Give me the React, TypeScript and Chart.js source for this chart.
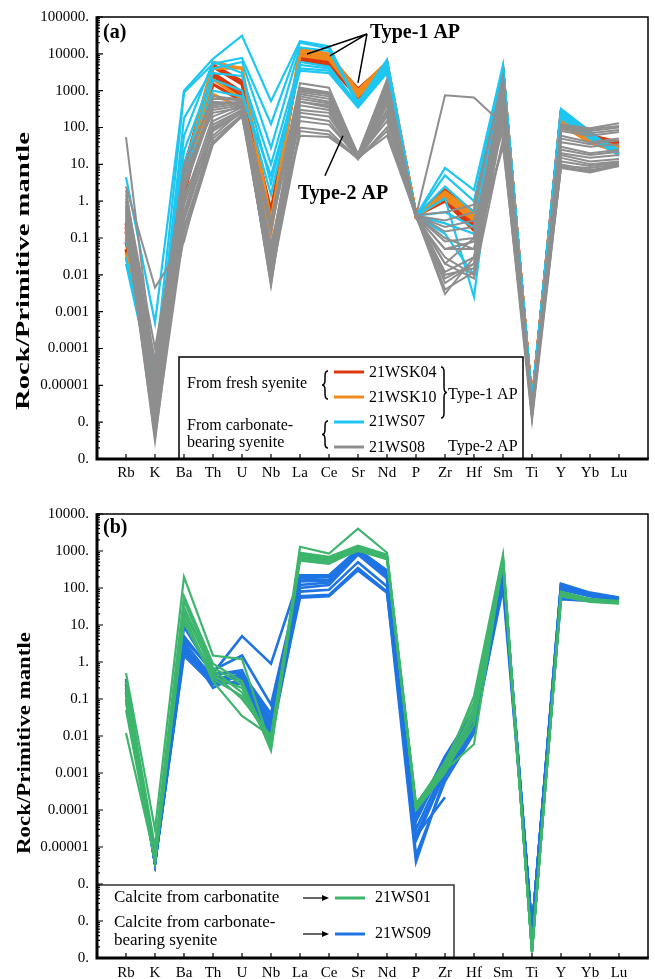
import React, { useEffect, useRef } from 'react';
import { Chart, registerables } from 'chart.js';

Chart.register(...registerables);

const FONT = '"Liberation Serif", "Times New Roman", serif';

const elements = ['Rb', 'K', 'Ba', 'Th', 'U', 'Nb', 'La', 'Ce', 'Sr', 'Nd', 'P', 'Zr', 'Hf', 'Sm', 'Ti', 'Y', 'Yb', 'Lu'];

const tickValuesA = [1e5, 1e4, 1e3, 100, 10, 1, 0.1, 0.01, 1e-3, 1e-4, 1e-5, 1e-6, 1e-7];
const tickLabelsA = ['100000.', '10000.', '1000.', '100.', '10.', '1.', '0.1', '0.01', '0.001', '0.0001', '0.00001', '0.', '0.'];
const tickValuesB = [1e4, 1e3, 100, 10, 1, 0.1, 0.01, 1e-3, 1e-4, 1e-5, 1e-6, 1e-7, 1e-8];
const tickLabelsB = ['10000.', '1000.', '100.', '10.', '1.', '0.1', '0.01', '0.001', '0.0001', '0.00001', '0.', '0.', '0.'];

// ---- Panel (a) ----  order: Rb K Ba Th U Nb La Ce Sr Nd P Zr Hf Sm Ti Y Yb Lu
const ws08 = [
  [55, 2e-5, 10, 600, 550, 0.3, 1600, 1200, 18, 2000, 0.4, 0.3, 0.5, 2500, 2.5e-6, 120, 95, 130],
  [2.5, 4.5e-3, 0.08, 100, 300, 0.02, 500, 400, 16, 600, 0.4, 0.05, 0.05, 800, 2e-6, 60, 40, 50],
  [1.5, 1e-4, 3, 500, 450, 0.05, 800, 600, 15, 900, 0.4, 750, 650, 120, 1.5e-6, 40, 30, 35],
  [0.8, 1e-5, 2, 400, 500, 0.01, 1000, 800, 18, 1200, 0.45, 0.02, 0.1, 1500, 2e-6, 100, 80, 100],
  [0.5, 1e-6, 1, 200, 400, 0.005, 700, 500, 14, 800, 0.4, 0.003, 0.03, 700, 1.4e-6, 30, 20, 25],
  [0.3, 3e-7, 0.5, 150, 350, 0.006, 400, 300, 15, 500, 0.38, 0.008, 0.02, 400, 1.5e-6, 20, 15, 18],
  [1.0, 6e-7, 0.3, 80, 250, 0.008, 300, 250, 16, 300, 0.4, 0.01, 0.015, 300, 1.6e-6, 15, 10, 12],
  [0.2, 3e-6, 0.2, 50, 220, 0.02, 200, 150, 14, 200, 0.35, 0.03, 0.01, 150, 2e-6, 10, 7, 9],
  [0.15, 1e-5, 0.1, 35, 200, 0.05, 60, 55, 15, 60, 0.4, 0.1, 0.05, 30, 2.5e-6, 8, 6, 9],
  [0.4, 5e-5, 8, 700, 580, 0.15, 1200, 900, 19, 1800, 0.42, 0.5, 0.8, 2000, 2.5e-6, 110, 90, 110],
  [0.6, 2e-6, 4, 300, 400, 0.03, 900, 700, 17, 1000, 0.4, 0.05, 0.08, 1000, 1.8e-6, 80, 60, 75],
  [0.25, 8e-7, 0.8, 120, 300, 0.006, 500, 350, 15, 400, 0.4, 0.004, 0.012, 600, 1.4e-6, 25, 18, 22],
  [2.0, 3e-5, 6, 250, 350, 0.07, 150, 120, 16, 150, 0.4, 0.2, 0.3, 80, 2e-6, 12, 9, 11],
  [0.12, 4e-6, 1.5, 60, 280, 0.012, 100, 80, 14, 100, 0.37, 0.02, 0.008, 50, 1.5e-6, 9, 8, 10],
  [1.2, 2e-5, 3, 450, 500, 0.2, 600, 450, 18, 700, 0.43, 0.15, 0.2, 500, 2.2e-6, 50, 35, 45],
  [0.35, 1.5e-6, 0.4, 90, 260, 0.015, 250, 200, 15, 250, 0.4, 0.006, 0.02, 250, 1.5e-6, 18, 12, 14],
  [0.7, 7e-6, 2, 350, 450, 0.04, 1100, 850, 17, 1400, 0.4, 0.08, 0.1, 1200, 1.7e-6, 90, 70, 85],
  [0.18, 4e-7, 0.15, 40, 210, 0.008, 80, 65, 14, 80, 0.4, 0.012, 0.03, 40, 1.1e-6, 8.5, 6.5, 9.5],
];

const ws07 = [
  [4.5, 5e-4, 1000, 7300, 31000, 520, 22000, 16000, 450, 7000, 0.4, 8, 2, 5000, 3.5e-6, 320, 80, 17],
  [0.45, 3e-5, 900, 5400, 7700, 125, 20000, 14000, 400, 6000, 0.4, 5, 1, 4500, 3.4e-6, 300, 70, 20],
  [0.3, 1.2e-5, 180, 4000, 6000, 28, 15000, 12000, 500, 5000, 0.4, 2.5, 0.5, 4000, 3.3e-6, 280, 65, 25],
  [0.02, 6e-6, 23, 3000, 2500, 10, 6000, 4500, 400, 4000, 0.4, 1.2, 0.0025, 3500, 3.2e-6, 250, 60, 18],
  [0.1, 1e-5, 60, 6000, 3000, 3, 5000, 4000, 380, 3500, 0.4, 0.5, 0.2, 3000, 3.2e-6, 200, 50, 20],
  [0.2, 1.4e-5, 10, 2000, 1000, 1.5, 4000, 3500, 420, 4500, 0.4, 0.25, 0.13, 3800, 3.3e-6, 220, 55, 22],
  [0.03, 8e-6, 5, 1000, 700, 5, 3500, 3000, 350, 3000, 0.4, 0.13, 0.01, 2500, 3.1e-6, 180, 50, 18],
];

const wsk10 = [
  [0.15, 9e-6, 5, 6000, 4000, 0.2, 14000, 10000, 1000, 6000, 0.4, 1.5, 0.4, 3500, 3.1e-6, 200, 45, 30],
  [0.04, 8e-6, 3, 800, 340, 0.14, 12000, 9000, 800, 5000, 0.38, 1.3, 0.35, 3000, 3e-6, 150, 40, 25],
  [0.1, 1e-5, 7, 4000, 4200, 0.3, 11000, 8000, 900, 5500, 0.4, 1.8, 0.5, 3300, 3.2e-6, 170, 42, 27],
  [0.03, 8e-6, 4, 2000, 600, 0.25, 9000, 7000, 700, 4200, 0.4, 1.2, 0.3, 2800, 3e-6, 120, 38, 22],
];

const wsk04 = [
  [0.25, 1e-5, 8, 4500, 1500, 0.45, 9500, 7500, 900, 5000, 0.4, 1.5, 0.3, 3000, 2.9e-6, 250, 60, 40],
  [0.15, 8e-6, 1.5, 1500, 520, 0.35, 8000, 6000, 750, 4000, 0.4, 1.2, 0.2, 2800, 2.9e-6, 200, 50, 30],
  [0.08, 1.1e-5, 4, 3000, 900, 0.55, 10000, 8500, 1100, 5500, 0.42, 2.0, 0.5, 3200, 3e-6, 220, 55, 35],
  [0.2, 9e-6, 6, 5000, 1800, 0.4, 7000, 5000, 650, 3500, 0.4, 1.0, 0.16, 2900, 2.9e-6, 180, 45, 28],
  [0.05, 8.5e-6, 2.5, 2500, 700, 0.3, 8500, 7000, 850, 4500, 0.4, 1.8, 0.25, 3100, 3e-6, 230, 50, 33],
];

// ---- Panel (b) ----
const ws01 = [
  [0.5, 3e-5, 200, 1.5, 1.2, 0.005, 1300, 850, 4000, 900, 1.5e-4, 1.5e-3, 0.12, 800, 1.4e-8, 70, 45, 40],
  [0.3, 1e-5, 60, 0.9, 0.3, 0.004, 900, 700, 1400, 800, 1.2e-4, 1.2e-3, 0.006, 600, 1.5e-8, 65, 45, 42],
  [0.15, 4e-6, 45, 0.7, 0.25, 0.006, 800, 650, 1300, 750, 1.3e-4, 1.5e-3, 0.05, 550, 1.5e-8, 75, 48, 40],
  [0.1, 4e-6, 30, 0.6, 0.15, 0.008, 700, 600, 1200, 700, 1e-4, 1e-3, 0.03, 500, 1.5e-8, 60, 42, 38],
  [0.05, 4e-6, 25, 0.5, 0.1, 0.01, 650, 550, 1100, 650, 1.4e-4, 2e-3, 0.08, 600, 1.5e-8, 80, 50, 45],
  [0.012, 5e-6, 20, 0.3, 0.035, 0.01, 600, 500, 1000, 600, 1.2e-4, 1.2e-3, 0.02, 450, 1.5e-8, 65, 44, 40],
  [0.2, 4e-6, 15, 0.4, 0.2, 0.005, 550, 450, 1100, 600, 1.1e-4, 1.4e-3, 0.04, 500, 1.5e-8, 70, 46, 42],
  [0.08, 4e-6, 12, 0.35, 0.12, 0.007, 750, 600, 1250, 700, 1e-4, 1.1e-3, 0.06, 650, 1.5e-8, 72, 47, 43],
];

const ws09 = [
  [0.35, 3.7e-6, 9, 0.5, 5, 0.9, 220, 220, 1100, 300, 8e-5, 2.8e-3, 0.05, 350, 5.7e-8, 130, 75, 55],
  [0.3, 3.7e-6, 4, 0.6, 1.5, 0.07, 180, 200, 1000, 280, 6e-5, 2.5e-3, 0.04, 300, 5.7e-8, 120, 70, 52],
  [0.25, 3.7e-6, 3, 0.2, 0.5, 0.03, 160, 170, 950, 250, 5e-5, 2e-3, 0.035, 280, 5.7e-8, 110, 68, 50],
  [0.2, 3.7e-6, 2.5, 0.3, 0.4, 0.02, 150, 160, 900, 230, 3e-5, 1.5e-3, 0.03, 260, 5.7e-8, 100, 65, 50],
  [0.15, 3.7e-6, 2, 0.4, 0.35, 0.015, 120, 140, 850, 200, 2e-5, 1.2e-3, 0.025, 240, 5.7e-8, 95, 62, 48],
  [0.1, 3.7e-6, 1.5, 0.25, 0.3, 0.01, 100, 120, 800, 180, 1.5e-5, 1e-3, 0.02, 220, 5.7e-8, 90, 60, 47],
  [0.3, 3.7e-6, 3.5, 0.35, 0.45, 0.025, 60, 65, 350, 80, 4e-6, 8e-4, 0.015, 100, 5.7e-8, 50, 45, 40],
  [0.25, 3.7e-6, 2.2, 0.45, 0.6, 0.012, 55, 60, 300, 75, 2e-5, 2.2e-4, null, null, null, null, null, null],
  [0.2, 3.7e-6, 1.8, 0.3, 0.25, 0.008, 80, 90, 500, 110, 6e-6, 6e-4, 0.012, 150, 5.7e-8, 60, 50, 42],
  [0.15, 3.7e-6, 5, 0.5, 0.5, 0.04, 200, 210, 1050, 290, 7e-5, 2.7e-3, 0.045, 320, 5.7e-8, 125, 72, 53],
];

// annotation anchors for panel (a), in [element position, value]
const type1Origin = [9.31, 34600];
const type1Targets = [[7.24, 9930], [8.03, 8770], [9.0, 1625]];
const type1LabelAt = [9.41, 36900];
const type2Line = [[7.86, 4.9], [8.48, 59.6]];
const type2LabelAt = [6.93, 1.6];

const COLORS = {
  red: '#D8380C',
  orange: '#F08A1C',
  cyan: '#1EC6F2',
  gray: '#8E8E8E',
  green: '#3DB56C',
  blue: '#1E74E2',
};

function makeDatasets(groups: { rows: (number | null)[][]; color: string; width: number }[]) {
  const ds: any[] = [];
  groups.forEach((g) =>
    g.rows.forEach((row) =>
      ds.push({
        data: row.map((v, i) => ({ x: i + 1, y: v })),
        borderColor: g.color,
        backgroundColor: g.color,
        borderWidth: g.width,
        pointRadius: 0,
        fill: false,
        tension: 0,
        spanGaps: false,
        borderJoinStyle: 'miter',
      })
    )
  );
  return ds;
}

function text(ctx: CanvasRenderingContext2D, s: string, x: number, y: number, font: string, align: CanvasTextAlign = 'left') {
  ctx.save();
  ctx.font = font;
  ctx.fillStyle = '#000';
  ctx.textAlign = align;
  ctx.textBaseline = 'middle';
  ctx.fillText(s, x, y);
  ctx.restore();
}

function vtitle(ctx: CanvasRenderingContext2D, s: string, xBase: number, yCenter: number, len: number) {
  ctx.save();
  ctx.font = `bold 18px ${FONT}`;
  ctx.fillStyle = '#000';
  ctx.textAlign = 'center';
  ctx.textBaseline = 'alphabetic';
  const w = ctx.measureText(s).width;
  ctx.translate(xBase, yCenter);
  ctx.rotate(-Math.PI / 2);
  ctx.scale(len / w, 1);
  ctx.fillText(s, 0, 0);
  ctx.restore();
}

function brace(ctx: CanvasRenderingContext2D, x: number, top: number, bot: number, w: number, dir: number) {
  const mid = (top + bot) / 2;
  const r = Math.min(5, (bot - top) * 0.18);
  const xb = x + dir * w;
  const xm = x + (dir * w) / 2;
  ctx.save();
  ctx.strokeStyle = '#000';
  ctx.lineWidth = 1.5;
  ctx.beginPath();
  ctx.moveTo(xb, top);
  ctx.quadraticCurveTo(xm, top, xm, top + r);
  ctx.lineTo(xm, mid - r);
  ctx.quadraticCurveTo(xm, mid, x, mid);
  ctx.quadraticCurveTo(xm, mid, xm, mid + r);
  ctx.lineTo(xm, bot - r);
  ctx.quadraticCurveTo(xm, bot, xb, bot);
  ctx.stroke();
  ctx.restore();
}

function sample(ctx: CanvasRenderingContext2D, x1: number, x2: number, y: number, color: string, w = 3) {
  ctx.save();
  ctx.strokeStyle = color;
  ctx.lineWidth = w;
  ctx.beginPath();
  ctx.moveTo(x1, y);
  ctx.lineTo(x2, y);
  ctx.stroke();
  ctx.restore();
}

function arrow(ctx: CanvasRenderingContext2D, x1: number, x2: number, y: number) {
  ctx.save();
  ctx.strokeStyle = '#000';
  ctx.fillStyle = '#000';
  ctx.lineWidth = 1.2;
  ctx.beginPath();
  ctx.moveTo(x1, y);
  ctx.lineTo(x2 - 5, y);
  ctx.stroke();
  ctx.beginPath();
  ctx.moveTo(x2, y);
  ctx.lineTo(x2 - 7, y - 3);
  ctx.lineTo(x2 - 7, y + 3);
  ctx.closePath();
  ctx.fill();
  ctx.restore();
}

function drawFrame(chart: any, minExp: number, maxExp: number) {
  const ctx: CanvasRenderingContext2D = chart.ctx;
  const { left, right, top, bottom } = chart.chartArea;
  const xs = chart.scales.x;
  const ys = chart.scales.y;
  ctx.save();
  ctx.strokeStyle = '#000';
  ctx.lineWidth = 1.2;
  ctx.beginPath();
  for (let e = minExp; e <= maxExp; e++) {
    const y = ys.getPixelForValue(Math.pow(10, e));
    ctx.moveTo(left, y);
    ctx.lineTo(left + 6, y);
    if (e < maxExp) {
      for (let k = 2; k <= 9; k++) {
        const ym = ys.getPixelForValue(k * Math.pow(10, e));
        ctx.moveTo(left, ym);
        ctx.lineTo(left + 3, ym);
      }
    }
  }
  for (let i = 1; i <= elements.length; i++) {
    const x = xs.getPixelForValue(i);
    ctx.moveTo(x, bottom);
    ctx.lineTo(x, bottom - 5);
  }
  ctx.stroke();
  ctx.lineWidth = 1.5;
  ctx.beginPath();
  ctx.moveTo(left, top);
  ctx.lineTo(right, top);
  ctx.lineTo(right, bottom);
  ctx.stroke();
  ctx.lineWidth = 3;
  ctx.beginPath();
  ctx.moveTo(left, top - 0.75);
  ctx.lineTo(left, bottom);
  ctx.lineTo(right + 0.75, bottom);
  ctx.stroke();
  ctx.restore();
}

const extrasA = {
  id: 'extrasA',
  afterDraw(chart: any) {
    const ctx: CanvasRenderingContext2D = chart.ctx;
    const xs = chart.scales.x;
    const ys = chart.scales.y;
    const X = (v: number) => xs.getPixelForValue(v);
    const Y = (v: number) => ys.getPixelForValue(v);
    const ca = chart.chartArea;
    ctx.save();
    ctx.strokeStyle = '#000';
    ctx.lineWidth = 1.5;
    ctx.beginPath();
    type1Targets.forEach((t) => {
      ctx.moveTo(X(type1Origin[0]), Y(type1Origin[1]));
      ctx.lineTo(X(t[0]), Y(t[1]));
    });
    ctx.moveTo(X(type2Line[0][0]), Y(type2Line[0][1]));
    ctx.lineTo(X(type2Line[1][0]), Y(type2Line[1][1]));
    ctx.stroke();
    ctx.restore();
    const bold = `bold 20px ${FONT}`;
    text(ctx, 'Type-1 AP', X(type1LabelAt[0]), Y(type1LabelAt[1]), bold);
    text(ctx, 'Type-2 AP', X(type2LabelAt[0]), Y(type2LabelAt[1]), bold);
    text(ctx, '(a)', ca.left + 6, ca.top + 16, bold);
    ctx.save();
    ctx.fillStyle = '#fff';
    ctx.fillRect(179, 357, 344, ca.bottom - 357);
    ctx.strokeStyle = '#000';
    ctx.lineWidth = 1.5;
    ctx.strokeRect(179, 357, 344, ca.bottom - 357);
    ctx.restore();
    const reg = `16px ${FONT}`;
    text(ctx, 'From fresh syenite', 187, 384, reg);
    text(ctx, 'From carbonate-', 187, 426, reg);
    text(ctx, 'bearing syenite', 187, 443, reg);
    brace(ctx, 322, 371, 399, 6, 1);
    brace(ctx, 322, 421, 448, 6, 1);
    brace(ctx, 447, 367, 418, 6, -1);
    sample(ctx, 334, 364, 372, COLORS.red);
    sample(ctx, 334, 364, 397, COLORS.orange);
    sample(ctx, 334, 364, 422, COLORS.cyan);
    sample(ctx, 334, 364, 447, COLORS.gray);
    text(ctx, '21WSK04', 369, 373, reg);
    text(ctx, '21WSK10', 369, 398, reg);
    text(ctx, '21WS07', 369, 422, reg);
    text(ctx, '21WS08', 369, 448, reg);
    text(ctx, 'Type-1 AP', 448, 395, reg);
    text(ctx, 'Type-2 AP', 448, 447, reg);
    drawFrame(chart, -7, 5);
    vtitle(ctx, 'Rock/Primitive mantle', 29, 271, 278);
  },
};

const extrasB = {
  id: 'extrasB',
  afterDraw(chart: any) {
    const ctx: CanvasRenderingContext2D = chart.ctx;
    const ca = chart.chartArea;
    const bold = `bold 20px ${FONT}`;
    text(ctx, '(b)', ca.left + 6, ca.top + 14, bold);
    const bx = ca.left;
    const by = 395;
    const bw = 357;
    ctx.save();
    ctx.fillStyle = '#fff';
    ctx.fillRect(bx, by, bw, ca.bottom - by);
    ctx.strokeStyle = '#333';
    ctx.lineWidth = 1.5;
    ctx.beginPath();
    ctx.moveTo(bx, by);
    ctx.lineTo(bx + bw, by);
    ctx.lineTo(bx + bw, ca.bottom);
    ctx.stroke();
    ctx.restore();
    const reg = `17px ${FONT}`;
    text(ctx, 'Calcite from carbonatite', 114, 408, reg);
    text(ctx, 'Calcite from carbonate-', 114, 433, reg);
    text(ctx, 'bearing syenite', 114, 451, reg);
    arrow(ctx, 303, 329, 408);
    arrow(ctx, 303, 329, 444);
    sample(ctx, 335, 365, 408, COLORS.green);
    sample(ctx, 335, 365, 444, COLORS.blue);
    text(ctx, '21WS01', 375, 408, `16px ${FONT}`);
    text(ctx, '21WS09', 375, 444, `16px ${FONT}`);
    drawFrame(chart, -8, 4);
    vtitle(ctx, 'Rock/Primitive mantle', 30, 253, 222);
  },
};

function makeConfig(datasets: any[], opts: { min: number; max: number; tv: number[]; tl: string[]; top: number; xh: number; xpad: number }, plugin: any) {
  const labelFor = (v: number) => {
    const i = opts.tv.findIndex((t) => Math.abs(Math.log10(t) - Math.log10(v)) < 1e-6);
    return i >= 0 ? opts.tl[i] : '';
  };
  return {
    type: 'line' as const,
    data: { datasets },
    options: {
      responsive: false,
      animation: false as const,
      devicePixelRatio: 1,
      events: [],
      layout: { padding: { top: opts.top, right: 7, left: 0, bottom: 0 } },
      plugins: { legend: { display: false }, tooltip: { enabled: false }, title: { display: false } },
      scales: {
        x: {
          type: 'linear' as const,
          min: 0,
          max: 19,
          afterBuildTicks: (s: any) => {
            s.ticks = elements.map((_, i) => ({ value: i + 1 }));
          },
          afterFit: (s: any) => {
            s.height = opts.xh;
          },
          ticks: {
            autoSkip: false,
            maxRotation: 0,
            padding: opts.xpad,
            color: '#000',
            font: { family: FONT, size: 15 },
            callback: (v: any) => elements[Math.round(v) - 1] ?? '',
          },
          grid: { display: false, drawTicks: false },
          border: { display: false },
        },
        y: {
          type: 'logarithmic' as const,
          min: opts.min,
          max: opts.max,
          afterBuildTicks: (s: any) => {
            s.ticks = opts.tv.map((v) => ({ value: v }));
          },
          afterFit: (s: any) => {
            s.width = 97;
          },
          ticks: {
            autoSkip: false,
            padding: 8,
            color: '#000',
            font: { family: FONT, size: 15 },
            callback: (v: any) => labelFor(Number(v)),
          },
          grid: { display: false, drawTicks: false },
          border: { display: false },
        },
      },
    },
    plugins: [plugin],
  };
}

export default function App() {
  const refA = useRef<HTMLCanvasElement>(null);
  const refB = useRef<HTMLCanvasElement>(null);

  useEffect(() => {
    const dsA = makeDatasets([
      { rows: ws08, color: COLORS.gray, width: 2 },
      { rows: ws07, color: COLORS.cyan, width: 2.2 },
      { rows: wsk10, color: COLORS.orange, width: 3 },
      { rows: wsk04, color: COLORS.red, width: 3.2 },
    ]);
    const dsB = makeDatasets([
      { rows: ws01, color: COLORS.green, width: 2.2 },
      { rows: ws09, color: COLORS.blue, width: 2.6 },
    ]);
    const a = new Chart(
      refA.current!,
      makeConfig(dsA, { min: 1e-7, max: 1e5, tv: tickValuesA, tl: tickLabelsA, top: 16, xh: 31, xpad: 5 }, extrasA) as any
    );
    const b = new Chart(
      refB.current!,
      makeConfig(dsB, { min: 1e-8, max: 1e4, tv: tickValuesB, tl: tickLabelsB, top: 24, xh: 21, xpad: 6 }, extrasB) as any
    );
    return () => {
      a.destroy();
      b.destroy();
    };
  }, []);

  return (
    <div style={{ position: 'absolute', left: 0, top: 0, width: 655, height: 979, background: '#fff' }}>
      <canvas ref={refA} width={655} height={490} style={{ position: 'absolute', left: 0, top: 0, width: 655, height: 490 }} />
      <canvas ref={refB} width={655} height={489} style={{ position: 'absolute', left: 0, top: 490, width: 655, height: 489 }} />
    </div>
  );
}
